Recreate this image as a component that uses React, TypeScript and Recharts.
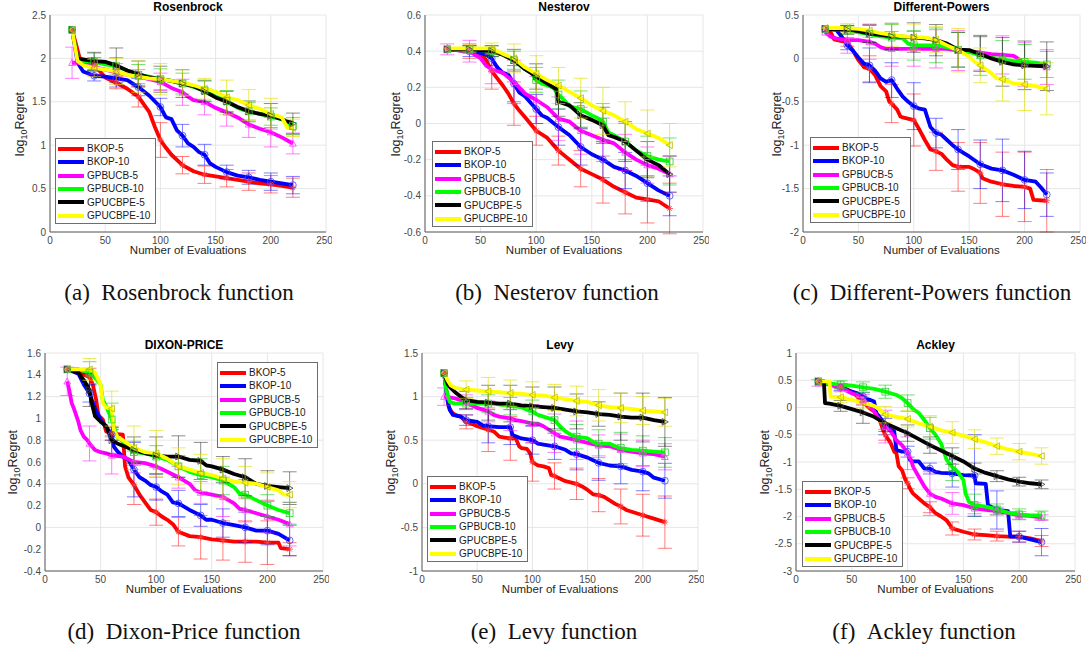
import React from 'react';
import { LineChart, Line, XAxis, YAxis, CartesianGrid, ErrorBar, Legend } from 'recharts';

type Pt = [number, number];

const SANS = '"Liberation Sans", Arial, Helvetica, sans-serif';
const SERIF = '"Liberation Serif", "Times New Roman", serif';

const NAMES = ['BKOP-5', 'BKOP-10', 'GPBUCB-5', 'GPBUCB-10', 'GPUCBPE-5', 'GPUCBPE-10'];
const COLORS = ['#ff0000', '#0000ff', '#ff00ff', '#00ff00', '#000000', '#ffff00'];
const BAR_COLORS = [
  'rgba(255,0,0,0.5)', 'rgba(0,0,255,0.5)', 'rgba(255,0,255,0.5)',
  'rgba(0,200,0,0.55)', 'rgba(0,0,0,0.45)', 'rgba(225,225,0,0.65)',
];
const MARK_COLORS = ['#ff4040', '#4040ff', '#ff40ff', '#30d030', '#404040', '#b8b800'];

const X_TICKS = [0, 50, 100, 150, 200, 250];
const ERR_X = [20, 40, 60, 80, 100, 120, 140, 160, 180, 200, 220];

// ---- Rosenbrock
const ROS_Y = [0, 0.5, 1, 1.5, 2, 2.5];
const ROS_BKOP5: Pt[] = [[20,2.33],[27,2.0],[30,1.97],[40,1.93],[50,1.78],[60,1.72],[70,1.65],[80,1.56],[90,1.38],[95,1.21],[100,1.06],[105,0.97],[110,0.89],[120,0.77],[130,0.70],[140,0.66],[150,0.64],[160,0.62],[170,0.60],[180,0.58],[190,0.56],[200,0.55],[210,0.53],[220,0.51]];
const ROS_BKOP10: Pt[] = [[20,2.33],[25,1.95],[30,1.85],[40,1.80],[50,1.79],[60,1.77],[70,1.75],[80,1.67],[90,1.57],[100,1.44],[105,1.32],[110,1.30],[115,1.17],[120,1.11],[125,1.02],[130,0.98],[135,0.92],[140,0.89],[145,0.79],[150,0.75],[160,0.69],[170,0.65],[180,0.63],[190,0.60],[200,0.58],[210,0.56],[220,0.54]];
const ROS_GPBUCB5: Pt[] = [[20,1.95],[25,1.95],[30,1.93],[40,1.90],[50,1.87],[60,1.84],[70,1.81],[80,1.79],[90,1.76],[100,1.73],[110,1.66],[120,1.61],[125,1.56],[130,1.52],[140,1.50],[150,1.43],[160,1.38],[170,1.32],[180,1.24],[190,1.19],[200,1.15],[210,1.09],[220,1.02]];
const ROS_GPBUCB10: Pt[] = [[20,2.33],[25,2.0],[30,1.97],[40,1.96],[50,1.93],[60,1.91],[70,1.86],[80,1.81],[90,1.79],[100,1.76],[110,1.74],[120,1.71],[130,1.67],[140,1.63],[150,1.56],[160,1.51],[170,1.43],[180,1.39],[190,1.36],[200,1.33],[210,1.30],[220,1.22]];
const ROS_GPUCBPE5: Pt[] = [[20,2.33],[25,2.0],[30,1.99],[40,1.97],[50,1.96],[60,1.92],[70,1.86],[80,1.82],[90,1.78],[100,1.76],[110,1.74],[120,1.71],[130,1.68],[140,1.62],[150,1.55],[160,1.50],[170,1.44],[180,1.39],[190,1.36],[200,1.34],[210,1.30],[220,1.25]];
const ROS_GPUCBPE10: Pt[] = [[20,2.33],[25,1.97],[30,1.92],[40,1.89],[50,1.87],[60,1.85],[70,1.81],[80,1.79],[90,1.77],[100,1.76],[110,1.74],[120,1.72],[130,1.69],[140,1.65],[150,1.62],[160,1.55],[170,1.52],[180,1.46],[190,1.42],[200,1.36],[210,1.32],[215,1.20],[220,1.20]];
const ROS_BKOP5_ERR = [0, 0.08, 0.07, 0.12, 0.2, 0.1, 0.1, 0.1, 0.1, 0.1, 0.11];
const ROS_BKOP10_ERR = [0, 0.06, 0.1, 0.1, 0.1, 0.13, 0.12, 0.08, 0.08, 0.1, 0.1];
const ROS_GPBUCB5_ERR = [0.18, 0.08, 0.1, 0.08, 0.1, 0.15, 0.15, 0.16, 0.15, 0.17, 0.12];
const ROS_GPBUCB10_ERR = [0, 0.1, 0.1, 0.12, 0.12, 0.12, 0.12, 0.12, 0.1, 0.1, 0.1];
const ROS_GPUCBPE5_ERR = [0, 0.1, 0.2, 0.15, 0.15, 0.16, 0.12, 0.12, 0.12, 0.14, 0.12];
const ROS_GPUCBPE10_ERR = [0, 0.1, 0.15, 0.18, 0.18, 0.15, 0.12, 0.2, 0.18, 0.18, 0.1];

// ---- Nesterov
const NES_Y = [-0.6, -0.4, -0.2, 0, 0.2, 0.4, 0.6];
const NES_BKOP5: Pt[] = [[20,0.41],[40,0.40],[50,0.38],[55,0.35],[60,0.29],[65,0.25],[70,0.21],[75,0.165],[80,0.11],[85,0.07],[90,0.035],[100,-0.04],[110,-0.08],[120,-0.15],[130,-0.20],[140,-0.25],[150,-0.28],[160,-0.31],[170,-0.35],[180,-0.38],[190,-0.41],[200,-0.42],[210,-0.43],[220,-0.47]];
const NES_BKOP10: Pt[] = [[20,0.41],[40,0.40],[50,0.39],[55,0.38],[60,0.36],[65,0.31],[70,0.28],[75,0.27],[80,0.22],[85,0.17],[90,0.15],[100,0.08],[105,0.045],[110,0.03],[120,-0.02],[130,-0.065],[140,-0.13],[150,-0.17],[160,-0.20],[170,-0.24],[180,-0.26],[190,-0.29],[200,-0.33],[210,-0.37],[220,-0.40]];
const NES_GPBUCB5: Pt[] = [[20,0.41],[40,0.40],[45,0.38],[50,0.36],[55,0.32],[60,0.30],[70,0.28],[80,0.23],[90,0.165],[100,0.13],[110,0.09],[120,0.027],[130,0.01],[140,-0.04],[150,-0.065],[160,-0.09],[170,-0.11],[180,-0.16],[190,-0.20],[200,-0.23],[210,-0.25],[220,-0.28]];
const NES_GPBUCB10: Pt[] = [[20,0.41],[40,0.41],[60,0.40],[70,0.38],[80,0.35],[90,0.30],[95,0.285],[100,0.24],[105,0.22],[110,0.21],[115,0.20],[120,0.16],[125,0.13],[130,0.095],[140,0.08],[150,0.045],[155,0.03],[160,0.01],[165,-0.05],[170,-0.065],[180,-0.10],[190,-0.15],[200,-0.18],[210,-0.20],[220,-0.21]];
const NES_GPUCBPE5: Pt[] = [[20,0.41],[40,0.41],[60,0.40],[70,0.38],[80,0.35],[90,0.30],[100,0.26],[110,0.22],[118,0.19],[120,0.12],[130,0.10],[140,0.045],[150,0.02],[160,-0.01],[165,-0.065],[170,-0.075],[180,-0.10],[190,-0.15],[200,-0.20],[210,-0.23],[220,-0.28]];
const NES_GPUCBPE10: Pt[] = [[20,0.415],[40,0.415],[60,0.415],[70,0.385],[80,0.36],[90,0.31],[100,0.275],[110,0.24],[120,0.21],[130,0.175],[140,0.14],[150,0.10],[160,0.07],[170,0.045],[180,0.01],[190,-0.03],[200,-0.055],[210,-0.08],[220,-0.12]];
const NES_BKOP5_ERR = [0, 0.04, 0.1, 0.12, 0.08, 0.08, 0.1, 0.13, 0.12, 0.13, 0.14];
const NES_BKOP10_ERR = [0, 0.03, 0.04, 0.1, 0.08, 0.1, 0.1, 0.1, 0.1, 0.1, 0.11];
const NES_GPBUCB5_ERR = [0.03, 0.06, 0.08, 0.12, 0.13, 0.12, 0.13, 0.12, 0.1, 0.1, 0.1];
const NES_GPBUCB10_ERR = [0, 0.02, 0.03, 0.05, 0.07, 0.08, 0.1, 0.1, 0.1, 0.11, 0.13];
const NES_GPUCBPE5_ERR = [0, 0.02, 0.03, 0.06, 0.07, 0.08, 0.07, 0.1, 0.11, 0.1, 0.1];
const NES_GPUCBPE10_ERR = [0, 0.02, 0.03, 0.08, 0.1, 0.1, 0.11, 0.13, 0.11, 0.13, 0.12];

// ---- Different-Powers
const DPW_Y = [-2, -1.5, -1, -0.5, 0, 0.5];
const DPW_BKOP5: Pt[] = [[20,0.33],[25,0.30],[28,0.22],[35,0.20],[40,0.19],[45,0.09],[50,-0.02],[55,-0.10],[60,-0.12],[65,-0.19],[70,-0.32],[75,-0.38],[78,-0.50],[80,-0.52],[85,-0.59],[88,-0.67],[90,-0.68],[100,-0.71],[105,-0.82],[110,-0.94],[115,-1.05],[120,-1.07],[125,-1.10],[130,-1.17],[135,-1.23],[140,-1.25],[150,-1.25],[155,-1.28],[160,-1.32],[162,-1.38],[170,-1.42],[180,-1.45],[190,-1.47],[200,-1.48],[205,-1.50],[208,-1.63],[220,-1.64]];
const DPW_BKOP10: Pt[] = [[20,0.34],[30,0.33],[35,0.25],[40,0.15],[45,0.09],[50,0.01],[55,-0.06],[60,-0.08],[65,-0.14],[70,-0.23],[75,-0.27],[80,-0.25],[85,-0.35],[90,-0.44],[95,-0.50],[100,-0.55],[105,-0.58],[110,-0.59],[115,-0.79],[120,-0.86],[125,-0.88],[130,-0.94],[135,-1.0],[140,-1.05],[150,-1.13],[160,-1.22],[170,-1.27],[180,-1.29],[190,-1.34],[200,-1.40],[210,-1.42],[215,-1.49],[220,-1.57]];
const DPW_GPBUCB5: Pt[] = [[20,0.30],[25,0.25],[30,0.23],[40,0.21],[50,0.21],[60,0.19],[65,0.17],[70,0.13],[75,0.11],[80,0.11],[100,0.11],[120,0.11],[130,0.11],[140,0.09],[150,0.075],[160,0.065],[170,0.05],[180,0.04],[190,0.03],[195,-0.01],[200,-0.07],[210,-0.08],[220,-0.10]];
const DPW_GPBUCB10: Pt[] = [[20,0.34],[40,0.33],[50,0.30],[60,0.28],[70,0.255],[80,0.24],[90,0.23],[95,0.17],[100,0.15],[110,0.15],[120,0.15],[130,0.13],[140,0.10],[150,0.075],[160,0.035],[170,0.01],[180,-0.015],[190,-0.03],[200,-0.04],[210,-0.05],[220,-0.07]];
const DPW_GPUCBPE5: Pt[] = [[20,0.34],[40,0.33],[50,0.315],[60,0.285],[70,0.27],[80,0.255],[90,0.25],[100,0.24],[110,0.23],[120,0.21],[130,0.17],[140,0.10],[150,0.095],[160,0.05],[170,0.0],[180,-0.04],[190,-0.07],[200,-0.08],[210,-0.085],[220,-0.09]];
const DPW_GPUCBPE10: Pt[] = [[20,0.35],[40,0.35],[50,0.34],[60,0.32],[70,0.29],[80,0.27],[90,0.255],[100,0.245],[110,0.24],[120,0.215],[130,0.15],[140,0.095],[150,0.02],[155,-0.04],[160,-0.08],[170,-0.17],[175,-0.23],[180,-0.24],[190,-0.29],[200,-0.30],[210,-0.32],[220,-0.35]];
const DPW_BKOP5_ERR = [0, 0.05, 0.15, 0.22, 0.3, 0.22, 0.28, 0.35, 0.37, 0.4, 0.36];
const DPW_BKOP10_ERR = [0, 0.05, 0.2, 0.2, 0.27, 0.17, 0.23, 0.28, 0.36, 0.33, 0.25];
const DPW_GPBUCB5_ERR = [0, 0.15, 0.2, 0.2, 0.2, 0.22, 0.23, 0.2, 0.22, 0.25, 0.2];
const DPW_GPBUCB10_ERR = [0, 0.05, 0.1, 0.15, 0.17, 0.2, 0.2, 0.23, 0.22, 0.2, 0.15];
const DPW_GPUCBPE5_ERR = [0, 0.05, 0.1, 0.15, 0.17, 0.18, 0.2, 0.2, 0.28, 0.28, 0.28];
const DPW_GPUCBPE10_ERR = [0, 0.05, 0.08, 0.13, 0.15, 0.15, 0.25, 0.2, 0.25, 0.3, 0.3];

// ---- Dixon-Price
const DIX_Y = [-0.4, -0.2, 0, 0.2, 0.4, 0.6, 0.8, 1, 1.2, 1.4, 1.6];
const DIX_BKOP5: Pt[] = [[20,1.45],[30,1.45],[35,1.40],[40,1.38],[43,1.31],[46,1.17],[48,1.03],[52,0.99],[55,0.88],[60,0.86],[70,0.85],[72,0.56],[75,0.46],[80,0.39],[85,0.30],[90,0.23],[95,0.16],[100,0.14],[105,0.10],[110,0.07],[115,0.03],[120,-0.04],[130,-0.08],[140,-0.09],[150,-0.11],[160,-0.12],[170,-0.13],[180,-0.13],[190,-0.13],[200,-0.14],[210,-0.14],[212,-0.19],[220,-0.20]];
const DIX_BKOP10: Pt[] = [[20,1.45],[30,1.41],[35,1.31],[40,1.23],[45,1.09],[50,0.99],[55,0.92],[60,0.85],[62,0.74],[65,0.70],[70,0.65],[75,0.62],[80,0.53],[85,0.46],[90,0.43],[95,0.39],[100,0.37],[105,0.33],[110,0.30],[115,0.23],[120,0.22],[125,0.19],[130,0.16],[140,0.11],[145,0.07],[150,0.07],[160,0.04],[170,0.02],[180,0.0],[190,-0.03],[200,-0.03],[210,-0.06],[220,-0.12]];
const DIX_GPBUCB5: Pt[] = [[20,1.34],[22,1.25],[24,1.14],[26,1.09],[28,1.03],[30,0.97],[32,0.89],[35,0.83],[38,0.80],[40,0.77],[45,0.71],[50,0.69],[55,0.68],[60,0.66],[70,0.65],[80,0.60],[90,0.59],[100,0.56],[110,0.51],[120,0.46],[130,0.40],[135,0.34],[140,0.32],[150,0.30],[160,0.28],[170,0.22],[175,0.17],[180,0.16],[190,0.13],[200,0.10],[210,0.07],[220,0.03]];
const DIX_GPBUCB10: Pt[] = [[20,1.45],[30,1.45],[40,1.42],[45,1.37],[50,1.31],[52,1.17],[55,1.11],[60,0.99],[65,0.83],[70,0.79],[75,0.73],[80,0.69],[90,0.68],[100,0.65],[110,0.62],[120,0.56],[130,0.51],[140,0.48],[150,0.46],[160,0.43],[170,0.37],[175,0.31],[180,0.30],[190,0.25],[200,0.20],[210,0.16],[220,0.13]];
const DIX_GPUCBPE5: Pt[] = [[20,1.45],[30,1.42],[35,1.35],[40,1.26],[42,1.14],[45,1.02],[50,0.97],[55,0.93],[60,0.80],[65,0.77],[70,0.75],[80,0.71],[90,0.68],[100,0.66],[110,0.65],[120,0.65],[130,0.62],[140,0.61],[145,0.57],[150,0.56],[160,0.53],[170,0.49],[180,0.46],[190,0.40],[200,0.38],[210,0.37],[220,0.36]];
const DIX_GPUCBPE10: Pt[] = [[20,1.45],[40,1.45],[45,1.42],[50,1.31],[52,1.14],[55,1.10],[60,1.09],[62,0.89],[65,0.83],[70,0.80],[80,0.73],[90,0.69],[100,0.68],[110,0.63],[120,0.56],[130,0.53],[140,0.50],[150,0.48],[160,0.45],[170,0.42],[180,0.41],[190,0.40],[200,0.37],[210,0.34],[215,0.30],[220,0.30]];
const DIX_BKOP5_ERR = [0, 0.08, 0.06, 0.18, 0.12, 0.13, 0.2, 0.18, 0.19, 0.2, 0.06];
const DIX_BKOP10_ERR = [0, 0.08, 0.05, 0.25, 0.12, 0.12, 0.1, 0.13, 0.14, 0.13, 0.14];
const DIX_GPBUCB5_ERR = [0.13, 0.16, 0.17, 0.1, 0.1, 0.1, 0.1, 0.18, 0.11, 0.15, 0.2];
const DIX_GPBUCB10_ERR = [0, 0.1, 0.15, 0.1, 0.1, 0.1, 0.15, 0.13, 0.14, 0.1, 0.1];
const DIX_GPUCBPE5_ERR = [0, 0.15, 0.12, 0.12, 0.17, 0.19, 0.17, 0.12, 0.17, 0.14, 0.15];
const DIX_GPUCBPE10_ERR = [0, 0.1, 0.16, 0.2, 0.21, 0.17, 0.17, 0.18, 0.15, 0.13, 0.12];

// ---- Levy
const LEV_Y = [-1, -0.5, 0, 0.5, 1, 1.5];
const LEV_BKOP5: Pt[] = [[20,1.27],[22,1.08],[24,0.89],[27,0.82],[30,0.79],[35,0.77],[40,0.71],[45,0.69],[50,0.66],[55,0.64],[60,0.62],[65,0.60],[70,0.54],[75,0.53],[80,0.52],[85,0.52],[88,0.43],[90,0.41],[95,0.40],[98,0.35],[100,0.25],[105,0.21],[110,0.20],[115,0.18],[117,0.10],[120,0.09],[130,0.03],[140,0.0],[145,-0.03],[150,-0.07],[155,-0.12],[160,-0.13],[165,-0.15],[170,-0.19],[175,-0.23],[180,-0.26],[185,-0.30],[190,-0.32],[195,-0.34],[200,-0.36],[210,-0.40],[220,-0.44]];
const LEV_BKOP10: Pt[] = [[20,1.27],[23,0.96],[25,0.85],[28,0.79],[35,0.77],[40,0.73],[50,0.71],[55,0.67],[60,0.66],[70,0.65],[80,0.65],[82,0.56],[90,0.52],[100,0.50],[105,0.46],[110,0.45],[120,0.43],[125,0.41],[130,0.39],[135,0.35],[140,0.34],[150,0.30],[155,0.27],[160,0.24],[170,0.21],[180,0.20],[190,0.16],[200,0.14],[205,0.12],[210,0.07],[220,0.035]];
const LEV_GPBUCB5: Pt[] = [[20,1.0],[25,0.99],[30,0.98],[40,0.94],[45,0.90],[50,0.87],[55,0.85],[60,0.83],[65,0.79],[70,0.77],[80,0.75],[85,0.73],[90,0.72],[100,0.69],[105,0.69],[110,0.66],[115,0.62],[120,0.58],[125,0.54],[130,0.53],[140,0.50],[150,0.47],[160,0.44],[170,0.43],[180,0.39],[190,0.37],[200,0.35],[210,0.34],[220,0.31]];
const LEV_GPBUCB10: Pt[] = [[20,1.27],[22,1.08],[25,0.94],[30,0.92],[40,0.92],[50,0.92],[60,0.92],[70,0.91],[80,0.89],[90,0.88],[95,0.85],[100,0.83],[105,0.79],[110,0.77],[115,0.75],[120,0.73],[125,0.66],[130,0.60],[135,0.56],[140,0.54],[150,0.52],[155,0.48],[160,0.46],[170,0.46],[175,0.43],[180,0.41],[190,0.39],[200,0.38],[210,0.37],[220,0.36]];
const LEV_GPUCBPE5: Pt[] = [[20,1.27],[23,1.15],[26,1.10],[30,1.05],[35,1.0],[40,0.96],[50,0.94],[60,0.93],[70,0.92],[80,0.92],[90,0.90],[100,0.89],[110,0.88],[120,0.87],[130,0.85],[140,0.83],[150,0.82],[160,0.80],[170,0.79],[180,0.77],[190,0.76],[200,0.76],[210,0.73],[220,0.71]];
const LEV_GPUCBPE10: Pt[] = [[20,1.27],[23,1.19],[26,1.13],[30,1.10],[40,1.08],[50,1.07],[60,1.06],[70,1.05],[80,1.04],[90,1.03],[100,1.02],[110,1.01],[120,0.99],[130,0.97],[140,0.95],[150,0.94],[160,0.90],[170,0.88],[180,0.87],[190,0.86],[200,0.84],[210,0.83],[220,0.82]];
const LEV_BKOP5_ERR = [0, 0.08, 0.25, 0.25, 0.22, 0.15, 0.18, 0.19, 0.2, 0.24, 0.3];
const LEV_BKOP10_ERR = [0, 0.06, 0.19, 0.2, 0.16, 0.15, 0.18, 0.2, 0.2, 0.22, 0.2];
const LEV_GPBUCB5_ERR = [0.1, 0.08, 0.12, 0.14, 0.22, 0.22, 0.22, 0.12, 0.18, 0.15, 0.15];
const LEV_GPBUCB10_ERR = [0, 0.07, 0.1, 0.1, 0.13, 0.12, 0.14, 0.16, 0.18, 0.17, 0.17];
const LEV_GPUCBPE5_ERR = [0, 0.1, 0.2, 0.21, 0.22, 0.24, 0.2, 0.14, 0.27, 0.28, 0.28];
const LEV_GPUCBPE10_ERR = [0, 0.1, 0.16, 0.15, 0.15, 0.15, 0.17, 0.18, 0.17, 0.16, 0.16];

// ---- Ackley
const ACK_Y = [-3, -2.5, -2, -1.5, -1, -0.5, 0, 0.5, 1];
const ACK_BKOP5: Pt[] = [[20,0.48],[30,0.45],[40,0.39],[50,0.29],[55,0.20],[60,0.11],[65,0.0],[70,-0.07],[75,-0.23],[78,-0.41],[80,-0.50],[85,-0.66],[88,-0.81],[90,-0.84],[92,-1.08],[95,-1.15],[98,-1.33],[100,-1.39],[103,-1.52],[105,-1.58],[110,-1.67],[115,-1.76],[120,-1.83],[125,-1.94],[130,-2.0],[135,-2.07],[140,-2.22],[145,-2.25],[150,-2.28],[160,-2.33],[170,-2.34],[180,-2.36],[190,-2.37],[200,-2.37],[210,-2.40],[220,-2.45]];
const ACK_BKOP10: Pt[] = [[20,0.48],[30,0.44],[40,0.36],[50,0.29],[55,0.26],[60,0.20],[65,0.15],[70,0.11],[72,-0.10],[78,-0.26],[80,-0.35],[85,-0.41],[88,-0.44],[90,-0.78],[95,-0.81],[100,-0.81],[102,-0.96],[105,-0.99],[110,-0.99],[115,-1.12],[120,-1.12],[125,-1.18],[130,-1.20],[140,-1.21],[150,-1.24],[160,-1.25],[161,-1.39],[170,-1.40],[172,-1.79],[180,-1.88],[190,-1.90],[192,-2.37],[200,-2.37],[210,-2.42],[220,-2.47]];
const ACK_GPBUCB5: Pt[] = [[20,0.45],[30,0.42],[40,0.36],[50,0.26],[55,0.23],[60,0.14],[65,0.05],[70,-0.07],[75,-0.23],[80,-0.35],[85,-0.44],[90,-0.60],[95,-0.69],[100,-0.84],[103,-0.96],[105,-1.09],[110,-1.27],[115,-1.45],[120,-1.58],[125,-1.64],[130,-1.67],[140,-1.76],[150,-1.79],[160,-1.85],[170,-1.88],[180,-1.90],[190,-1.94],[200,-1.98],[210,-1.99],[220,-2.02]];
const ACK_GPBUCB10: Pt[] = [[20,0.48],[30,0.44],[40,0.42],[50,0.40],[60,0.37],[70,0.34],[80,0.29],[90,0.23],[95,0.17],[100,0.08],[105,-0.03],[110,-0.10],[115,-0.23],[120,-0.38],[125,-0.50],[130,-0.66],[133,-0.84],[135,-0.96],[140,-1.09],[145,-1.18],[150,-1.33],[152,-1.58],[155,-1.73],[160,-1.79],[170,-1.82],[180,-1.87],[190,-1.93],[200,-1.96],[210,-1.98],[220,-1.98]];
const ACK_GPUCBPE5: Pt[] = [[20,0.48],[25,0.48],[26,0.08],[30,0.07],[40,0.03],[50,-0.03],[60,-0.09],[70,-0.17],[80,-0.29],[90,-0.38],[100,-0.47],[110,-0.58],[120,-0.69],[130,-0.79],[140,-0.89],[150,-0.99],[160,-1.12],[170,-1.20],[180,-1.26],[190,-1.32],[200,-1.36],[210,-1.39],[220,-1.41]];
const ACK_GPUCBPE10: Pt[] = [[20,0.48],[30,0.48],[31,0.20],[40,0.19],[50,0.14],[60,0.09],[70,0.03],[75,-0.04],[80,-0.13],[90,-0.17],[100,-0.21],[110,-0.29],[120,-0.35],[130,-0.42],[140,-0.46],[150,-0.52],[160,-0.58],[170,-0.64],[180,-0.71],[190,-0.77],[200,-0.81],[210,-0.85],[220,-0.89]];
const ACK_BKOP5_ERR = [0, 0.05, 0.05, 0.1, 0.1, 0.1, 0.12, 0.1, 0.09, 0.1, 0.1];
const ACK_BKOP10_ERR = [0, 0.05, 0.08, 0.15, 0.1, 0.1, 0.25, 0.75, 0.35, 0.1, 0.25];
const ACK_GPBUCB5_ERR = [0.06, 0.07, 0.1, 0.3, 0.3, 0.4, 0.2, 0.1, 0.07, 0.07, 0.05];
const ACK_GPBUCB10_ERR = [0, 0.07, 0.1, 0.12, 0.15, 0.2, 0.25, 0.2, 0.1, 0.1, 0.08];
const ACK_GPUCBPE5_ERR = [0, 0.1, 0.2, 0.15, 0.15, 0.15, 0.15, 0.1, 0.1, 0.08, 0.08];
const ACK_GPUCBPE10_ERR = [0, 0.1, 0.1, 0.15, 0.15, 0.2, 0.2, 0.17, 0.15, 0.15, 0.15];

type PanelDef = {
  title: string;
  caption: string;
  capX: number;
  capY: number;
  box: [number, number, number, number];
  yTicks: number[];
  yLabelX: number;
  legend: [number, number];
  series: Pt[][];
  errs: number[][];
};

const PANELS: PanelDef[] = [
  {
    title: 'Rosenbrock', caption: '(a)\u2002Rosenbrock function', capX: 179, capY: 293,
    box: [50, 326, 15, 232], yTicks: ROS_Y, yLabelX: 20, legend: [55, 138],
    series: [ROS_BKOP5, ROS_BKOP10, ROS_GPBUCB5, ROS_GPBUCB10, ROS_GPUCBPE5, ROS_GPUCBPE10],
    errs: [ROS_BKOP5_ERR, ROS_BKOP10_ERR, ROS_GPBUCB5_ERR, ROS_GPBUCB10_ERR, ROS_GPUCBPE5_ERR, ROS_GPUCBPE10_ERR],
  },
  {
    title: 'Nesterov', caption: '(b)\u2002Nesterov function', capX: 557, capY: 293,
    box: [425, 703, 15, 232], yTicks: NES_Y, yLabelX: 396, legend: [432, 141],
    series: [NES_BKOP5, NES_BKOP10, NES_GPBUCB5, NES_GPBUCB10, NES_GPUCBPE5, NES_GPUCBPE10],
    errs: [NES_BKOP5_ERR, NES_BKOP10_ERR, NES_GPBUCB5_ERR, NES_GPBUCB10_ERR, NES_GPUCBPE5_ERR, NES_GPUCBPE10_ERR],
  },
  {
    title: 'Different-Powers', caption: '(c)\u2002Different-Powers function', capX: 932, capY: 293,
    box: [803, 1080, 15, 232], yTicks: DPW_Y, yLabelX: 777, legend: [810, 137],
    series: [DPW_BKOP5, DPW_BKOP10, DPW_GPBUCB5, DPW_GPBUCB10, DPW_GPUCBPE5, DPW_GPUCBPE10],
    errs: [DPW_BKOP5_ERR, DPW_BKOP10_ERR, DPW_GPBUCB5_ERR, DPW_GPBUCB10_ERR, DPW_GPUCBPE5_ERR, DPW_GPUCBPE10_ERR],
  },
  {
    title: 'DIXON-PRICE', caption: '(d)\u2002Dixon-Price function', capX: 184, capY: 632,
    box: [45, 323, 353, 571], yTicks: DIX_Y, yLabelX: 13, legend: [217, 362],
    series: [DIX_BKOP5, DIX_BKOP10, DIX_GPBUCB5, DIX_GPBUCB10, DIX_GPUCBPE5, DIX_GPUCBPE10],
    errs: [DIX_BKOP5_ERR, DIX_BKOP10_ERR, DIX_GPBUCB5_ERR, DIX_GPBUCB10_ERR, DIX_GPUCBPE5_ERR, DIX_GPUCBPE10_ERR],
  },
  {
    title: 'Levy', caption: '(e)\u2002Levy function', capX: 554, capY: 632,
    box: [422, 698, 353, 571], yTicks: LEV_Y, yLabelX: 391, legend: [427, 476],
    series: [LEV_BKOP5, LEV_BKOP10, LEV_GPBUCB5, LEV_GPBUCB10, LEV_GPUCBPE5, LEV_GPUCBPE10],
    errs: [LEV_BKOP5_ERR, LEV_BKOP10_ERR, LEV_GPBUCB5_ERR, LEV_GPBUCB10_ERR, LEV_GPUCBPE5_ERR, LEV_GPUCBPE10_ERR],
  },
  {
    title: 'Ackley', caption: '(f)\u2002Ackley function', capX: 924, capY: 632,
    box: [796, 1075, 353, 571], yTicks: ACK_Y, yLabelX: 765, legend: [802, 481],
    series: [ACK_BKOP5, ACK_BKOP10, ACK_GPBUCB5, ACK_GPBUCB10, ACK_GPUCBPE5, ACK_GPUCBPE10],
    errs: [ACK_BKOP5_ERR, ACK_BKOP10_ERR, ACK_GPBUCB5_ERR, ACK_GPBUCB10_ERR, ACK_GPUCBPE5_ERR, ACK_GPUCBPE10_ERR],
  },
];

const fmt = (v: number) => String(parseFloat(v.toFixed(2)));

const lineData = (s: Pt[]) => s.map(([x, y]) => ({ x, y }));

// markers + error bars sit on the sampled evaluations (every 20)
const markerData = (s: Pt[], err: number[]) =>
  ERR_X.map((x, i) => {
    const p = s.find((q) => q[0] === x);
    return { x, y: p ? p[1] : null, err: err[i] };
  });

function makeMarker(kind: number, color: string) {
  return (props: any) => {
    const { cx, cy, index } = props;
    const key = `mk${index}`;
    if (cx == null || cy == null || Number.isNaN(cx) || Number.isNaN(cy)) return <g key={key} />;
    const s = 3.4;
    const st = { fill: 'none', stroke: color, strokeWidth: 0.8 };
    switch (kind) {
      case 0:
        return (
          <path key={key} {...st}
            d={`M${cx - s},${cy}H${cx + s}M${cx},${cy - s}V${cy + s}M${cx - s * 0.7},${cy - s * 0.7}L${cx + s * 0.7},${cy + s * 0.7}M${cx - s * 0.7},${cy + s * 0.7}L${cx + s * 0.7},${cy - s * 0.7}`} />
        );
      case 1:
        return <circle key={key} {...st} cx={cx} cy={cy} r={s} />;
      case 2:
        return <path key={key} {...st} d={`M${cx},${cy - s}L${cx + s},${cy + s * 0.8}L${cx - s},${cy + s * 0.8}Z`} />;
      case 3:
        return <rect key={key} {...st} x={cx - s} y={cy - s} width={2 * s} height={2 * s} />;
      case 4:
        return <path key={key} {...st} d={`M${cx + s},${cy}L${cx - s * 0.8},${cy - s}L${cx - s * 0.8},${cy + s}Z`} />;
      default:
        return <path key={key} {...st} d={`M${cx - s},${cy}L${cx + s * 0.8},${cy - s}L${cx + s * 0.8},${cy + s}Z`} />;
    }
  };
}

function LegendBox() {
  return (
    <div
      style={{
        border: '1px solid #6e6e6e',
        background: '#fff',
        padding: '3px 5px 1px 2px',
        fontFamily: SANS,
        fontSize: 10,
        color: '#1a1a1a',
        lineHeight: '13.4px',
      }}
    >
      {NAMES.map((n, i) => (
        <div key={n} style={{ display: 'flex', alignItems: 'center', whiteSpace: 'nowrap' }}>
          <span style={{ display: 'inline-block', width: 26, height: 4, background: COLORS[i], marginRight: 3 }} />
          {n}
        </div>
      ))}
    </div>
  );
}

const YW = 40;
const MT = 10;
const MR = 6;
const XH = 22;

function Panel({ p }: { p: PanelDef }) {
  const [x0, x1, y0, y1] = p.box;
  const left = x0 - YW;
  const top = y0 - MT;
  const W = x1 - x0 + YW + MR;
  const H = y1 - y0 + MT + XH;
  const yMin = p.yTicks[0];
  const yMax = p.yTicks[p.yTicks.length - 1];
  const tickStyle = { fontSize: 10, fill: '#474747', fontFamily: SANS };

  return (
    <>
      <div style={{ position: 'absolute', left, top, width: W, height: H }}>
        <LineChart width={W} height={H} margin={{ top: MT, right: MR, bottom: 0, left: 0 }}>
          <CartesianGrid stroke="#e6e6e6" />
          <XAxis
            type="number"
            dataKey="x"
            domain={[0, 250]}
            ticks={X_TICKS}
            allowDataOverflow
            height={XH}
            tick={tickStyle}
            tickLine={false}
            tickSize={3}
            tickMargin={2}
            tickFormatter={fmt}
            stroke="#5a5a5a"
          />
          <YAxis
            type="number"
            domain={[yMin, yMax]}
            ticks={p.yTicks}
            allowDataOverflow
            width={YW}
            tick={tickStyle}
            tickLine={false}
            tickSize={3}
            tickMargin={1}
            tickFormatter={fmt}
            stroke="#5a5a5a"
          />
          {p.series.flatMap((s, i) => [
            <Line
              key={`line${i}`}
              data={lineData(s)}
              dataKey="y"
              type="linear"
              stroke={COLORS[i]}
              strokeWidth={3.8}
              strokeLinejoin="round"
              dot={false}
              activeDot={false}
              isAnimationActive={false}
              legendType="none"
            />,
            <Line
              key={`mark${i}`}
              data={markerData(s, p.errs[i])}
              dataKey="y"
              stroke="none"
              strokeWidth={0}
              dot={makeMarker(i, MARK_COLORS[i])}
              activeDot={false}
              isAnimationActive={false}
              legendType="none"
            >
              <ErrorBar dataKey="err" width={7} stroke={BAR_COLORS[i]} strokeWidth={1} direction="y" isAnimationActive={false} />
            </Line>,
          ])}
          <Legend
            layout="horizontal"
            verticalAlign="middle"
            align="center"
            content={() => <LegendBox />}
            wrapperStyle={{ left: p.legend[0] - left, top: p.legend[1] - top, width: 'auto', height: 'auto' }}
          />
        </LineChart>
      </div>
      <div
        style={{
          position: 'absolute', left: x0, width: x1 - x0, top: y0 - 15, textAlign: 'center',
          fontFamily: SANS, fontWeight: 'bold', fontSize: 12, lineHeight: '14px', color: '#000',
        }}
      >
        {p.title}
      </div>
      <div
        style={{
          position: 'absolute', left: x0, width: x1 - x0, top: y1 + 11, textAlign: 'center',
          fontFamily: SANS, fontSize: 11.5, lineHeight: '14px', color: '#262626',
        }}
      >
        Number of Evaluations
      </div>
      <div
        style={{
          position: 'absolute', left: p.yLabelX - 60, top: (y0 + y1) / 2 - 9, width: 120, height: 18,
          textAlign: 'center', transform: 'rotate(-90deg)', fontFamily: SANS, fontSize: 12.5,
          lineHeight: '18px', color: '#262626', whiteSpace: 'nowrap',
        }}
      >
        log<sub style={{ fontSize: 9, verticalAlign: '-3px', lineHeight: 0 }}>10</sub>Regret
      </div>
      <div
        style={{
          position: 'absolute', left: p.capX - 200, width: 400, top: p.capY - 14, textAlign: 'center',
          fontFamily: SERIF, fontSize: 23, lineHeight: '28px', color: '#111', whiteSpace: 'nowrap',
        }}
      >
        {p.caption}
      </div>
    </>
  );
}

export default function App() {
  return (
    <div style={{ position: 'absolute', left: 0, top: 0, width: 1091, height: 650, background: '#fff', overflow: 'hidden' }}>
      {PANELS.map((p) => (
        <Panel key={p.title} p={p} />
      ))}
    </div>
  );
}
